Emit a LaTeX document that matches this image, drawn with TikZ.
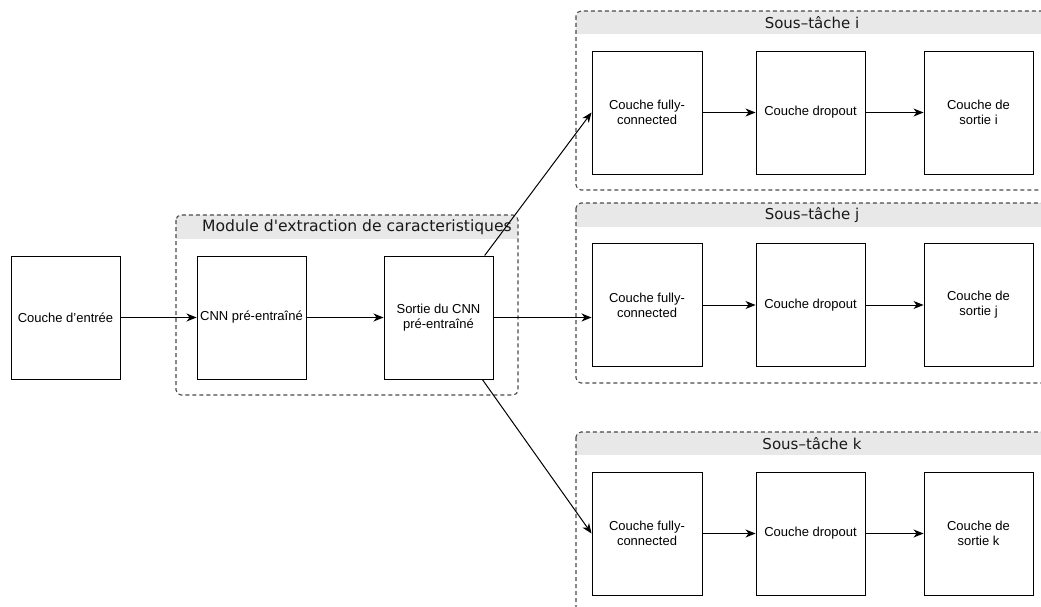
\documentclass[tikz,border=0pt]{standalone}
\usepackage{fontspec}
\setmainfont{Liberation Sans}
\newfontfamily\titlefont{DejaVu Sans}
\usetikzlibrary{arrows.meta}
\definecolor{hdrgrey}{HTML}{E8E8E8}
\definecolor{bordergrey}{HTML}{4A4A4A}
\tikzset{
  layerbox/.style={draw=black, line width=0.95pt, fill=white, inner sep=0pt,
    minimum width=109pt, minimum height=123pt, align=center,
    font=\fontsize{13}{15}\selectfont},
  arr/.style={draw=black, line width=1pt, -{Stealth[length=10pt,width=8pt,inset=3pt]}},
  contborder/.style={draw=bordergrey, line width=1.1pt, dash pattern=on 4pt off 3pt, rounded corners=5pt},
  conttitle/.style={font=\titlefont\fontsize{15}{18}\selectfont, inner sep=0pt, text=black!90},
}
\begin{document}
\begin{tikzpicture}[x=1pt,y=-1pt]
\useasboundingbox (0,0) rectangle (1041,607);
\clip (0,0) rectangle (1041,607);
% containers
\foreach \ya/\yh/\yb in {215/239/395}{
  \begin{scope}
    \clip[rounded corners=5pt] (176,\ya) rectangle (518,\yb);
    \fill[hdrgrey] (176,\ya) rectangle (518,\yh);
  \end{scope}
  \draw[contborder] (176,\ya) rectangle (518,\yb);
}
\foreach \ya/\yh/\yb in {11/34/190, 203/227/383, 432/455/640}{
  \begin{scope}
    \clip[rounded corners=5pt] (576,\ya) rectangle (1060,\yb);
    \fill[hdrgrey] (576,\ya) rectangle (1060,\yh);
  \end{scope}
  \draw[contborder] (576,\ya) rectangle (1060,\yb);
}
\node[conttitle, font=\titlefont\fontsize{15.6}{18}\selectfont] (tmod) at (357,227) {Module d'extraction de caracteristiques};
\node[conttitle] (ti) at (812,23) {Sous–tâche i};
\node[conttitle] (tj) at (812,215) {Sous–tâche j};
\node[conttitle] (tk) at (812,444) {Sous–tâche k};
% main boxes
\node[layerbox] (inp) at (65.5,317.5) {Couche d'entrée};
\node[layerbox] (cnn) at (251.5,317.5) {CNN pré-entraîné};
\node[layerbox] (sortie) at (438.5,317.5) {Sortie du CNN\\pré-entraîné};
% subtask boxes
\foreach \n/\yc in {i/112.5, j/305, k/533.5}{
  \node[layerbox, minimum width=110pt] (fc\n) at (647,\yc) {Couche fully-\\connected};
  \node[layerbox] (do\n) at (810.5,\yc) {Couche dropout};
  \node[layerbox] (so\n) at (978.5,\yc) {Couche de\\sortie \n};
  \draw[arr] (fc\n) -- (do\n);
  \draw[arr] (do\n) -- (so\n);
}
% connectors
\draw[arr] (inp) -- (cnn);
\draw[arr] (cnn) -- (sortie);
\draw[arr] (sortie) -- (fci.west);
\draw[arr] (sortie.east) -- (sortie.east -| fcj.west);
\draw[arr] (sortie) -- (fck.west);
\end{tikzpicture}
\end{document}
